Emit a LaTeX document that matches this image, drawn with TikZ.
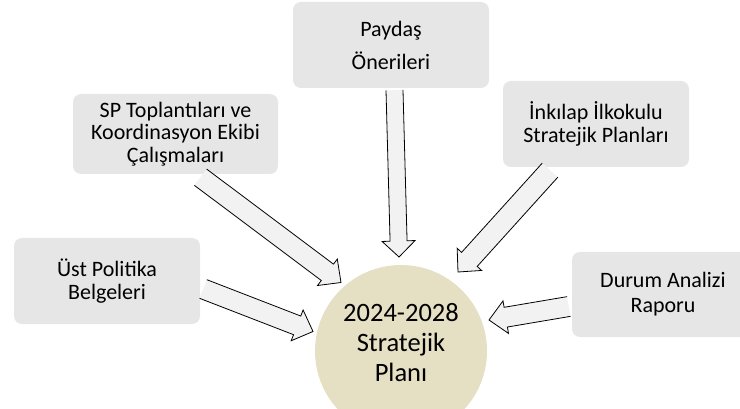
\documentclass[tikz,border=0pt]{standalone}
\usepackage{fontspec}
\setmainfont{Carlito}
\usetikzlibrary{calc}
\definecolor{boxgray}{HTML}{E6E6E6}
\definecolor{arrowfill}{HTML}{F2F2F2}
\definecolor{planbeige}{HTML}{E5DFC4}
\tikzset{
  srcbox/.style={rectangle, rounded corners=8pt, fill=boxgray, draw=none, align=center, inner sep=0pt,
    font=\fontsize{22}{23.5}\selectfont},
  arrowbody/.style={fill=arrowfill, draw=none},
  arrowline/.style={draw=black, line width=0.8pt, line join=miter},
  plan/.style={circle, fill=planbeige, minimum size=172pt, inner sep=0pt},
  plantext/.style={align=center, inner sep=0pt, font=\fontsize{26.5}{30}\selectfont}
}
% #1 start, #2 tip, #3 half shaft, #4 half head, #5 head length
\newcommand\blockarr[5]{%
  \coordinate (ba-h) at ($(#2)!#5!(#1)$);
  \coordinate (ba-s1) at ($(#1)!#3!90:(#2)$);
  \coordinate (ba-s2) at ($(#1)!#3!-90:(#2)$);
  \coordinate (ba-h1) at ($(ba-h)!#3!90:(#2)$);
  \coordinate (ba-h2) at ($(ba-h)!#3!-90:(#2)$);
  \coordinate (ba-k1) at ($(ba-h)!#4!90:(#2)$);
  \coordinate (ba-k2) at ($(ba-h)!#4!-90:(#2)$);
  \fill[arrowbody] (ba-s1) -- (ba-h1) -- (ba-k1) -- (#2) -- (ba-k2) -- (ba-h2) -- (ba-s2) -- cycle;
  \draw[arrowline] (ba-s1) -- (ba-h1) -- (ba-k1) -- (#2) -- (ba-k2) -- (ba-h2) -- (ba-s2);
}
\begin{document}
\begin{tikzpicture}[x=1pt,y=-1pt]
\useasboundingbox (0,0) rectangle (740,409);
% source boxes
\node[srcbox, minimum width=196pt, minimum height=86pt, font=\fontsize{22}{33}\selectfont]
  (paydas) at (391,45) {Paydaş\\Önerileri};
\node[srcbox, minimum width=205pt, minimum height=80pt, font=\fontsize{22}{22.5}\selectfont] (sp) at (175.5,134)
  {SP Toplantıları ve\\Koordinasyon Ekibi\\Çalışmaları};
\node[srcbox, minimum width=186pt, minimum height=86pt] (inkilap) at (596,124)
  {İnkılap İlkokulu\\Stratejik Planları};
\node[srcbox, minimum width=186pt, minimum height=86pt] (ust) at (107,281)
  {Üst Politika\\Belgeleri};
\node[srcbox, minimum width=182pt, minimum height=85pt, font=\fontsize{22}{25}\selectfont] (durum) at (663,294.5)
  {Durum Analizi\\Raporu};
% target
\node[plan] (plan) at (401,351) {};
\node[plantext] (plantitle) at (401,343) {2024-2028\\Stratejik\\Planı};
% connector anchors
\coordinate (p-s) at ($(paydas.south)+(3.5,2)$);
\coordinate (p-t) at (399,257);
\coordinate (sp-s) at ($(sp.south)+(25,3)$);
\coordinate (sp-t) at (341,282.5);
\coordinate (i-s) at ($(inkilap.south)+(-46,3)$);
\coordinate (i-t) at (458,272);
\coordinate (u-s) at ($(ust.east)+(3,8)$);
\coordinate (u-t) at (313,331.5);
\coordinate (d-s) at ($(durum.west)+(-3,12)$);
\coordinate (d-t) at (489,320);
\blockarr{p-s}{p-t}{8.5pt}{16.5pt}{16pt}
\blockarr{sp-s}{sp-t}{10.2pt}{16.5pt}{17pt}
\blockarr{i-s}{i-t}{10.5pt}{16.5pt}{17pt}
\blockarr{u-s}{u-t}{10pt}{16.5pt}{17pt}
\blockarr{d-s}{d-t}{10pt}{16.5pt}{17pt}
\end{tikzpicture}
\end{document}
